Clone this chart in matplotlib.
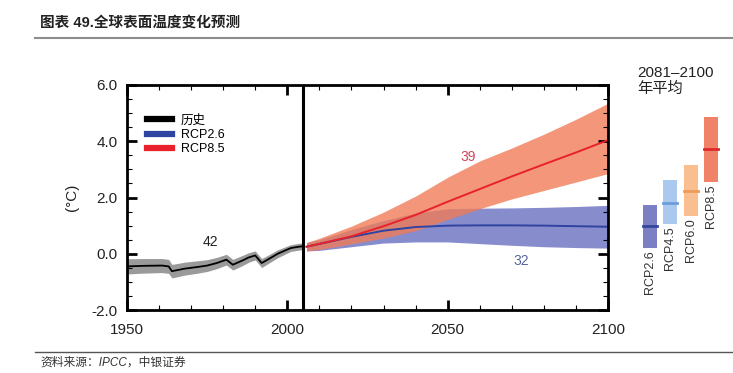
import matplotlib.pyplot as plt
import numpy as np

plt.rcParams['font.family'] = ['Liberation Sans', 'Noto Sans CJK SC', 'DejaVu Sans']

# historical series (annual anomaly, degC)
hist_years = [1950, 1955, 1961, 1963, 1964, 1968, 1972, 1975, 1978, 1981, 1983, 1986,
              1988, 1990, 1992, 1994, 1997, 1999, 2001, 2003, 2005]
hist_mean = [-0.45, -0.43, -0.42, -0.45, -0.62, -0.53, -0.47, -0.42, -0.33, -0.21, -0.39,
             -0.24, -0.13, -0.06, -0.33, -0.20, 0.00, 0.10, 0.20, 0.24, 0.27]
hist_half = [0.27, 0.26, 0.25, 0.25, 0.24, 0.23, 0.22, 0.21, 0.20, 0.19, 0.19, 0.18,
             0.17, 0.16, 0.16, 0.15, 0.14, 0.13, 0.12, 0.12, 0.12]

# projections
fut_years = [2006, 2010, 2020, 2030, 2040, 2050, 2060, 2070, 2080, 2090, 2100]
rcp85_mean = [0.25, 0.35, 0.62, 0.98, 1.38, 1.85, 2.30, 2.75, 3.18, 3.60, 4.04]
rcp85_hi = [0.40, 0.55, 0.98, 1.48, 2.05, 2.72, 3.30, 3.76, 4.25, 4.78, 5.35]
rcp85_lo = [0.10, 0.15, 0.35, 0.56, 0.82, 1.22, 1.60, 1.95, 2.25, 2.55, 2.85]
rcp26_mean = [0.25, 0.35, 0.60, 0.82, 0.95, 1.00, 1.01, 1.01, 1.00, 0.98, 0.96]
rcp26_hi = [0.40, 0.50, 0.86, 1.18, 1.45, 1.60, 1.62, 1.63, 1.65, 1.68, 1.72]
rcp26_lo = [0.10, 0.12, 0.25, 0.38, 0.42, 0.42, 0.36, 0.30, 0.25, 0.22, 0.20]

# 2081-2100 averages
bar_names = ['RCP2.6', 'RCP4.5', 'RCP6.0', 'RCP8.5']
bar_lo = [0.2, 1.05, 1.35, 2.55]
bar_hi = [1.72, 2.62, 3.15, 4.88]
bar_mid = [0.98, 1.8, 2.22, 3.74]
bar_fill = ['#7b7fc4', '#abc9ee', '#f9bf90', '#f08268']
bar_line = ['#34479c', '#6b9edb', '#ee9a55', '#dc2a2a']

fig = plt.figure(figsize=(7.33, 3.73), dpi=100)

# header / footer
fig.text(40/733, 1-23/373, '图表 49.全球表面温度变化预测', fontsize=10.5, fontweight='bold',
         va='center', ha='left', color='#222222')
fig.add_artist(plt.Line2D([35/733, 1], [1-38/373, 1-38/373], color='#8c8c8c', lw=1.5))
fig.add_artist(plt.Line2D([35/733, 1], [1-352/373, 1-352/373], color='#555555', lw=1.0))
fig.text(40/733, 1-363/373, '资料来源：IPCC，中银证券', fontsize=8.5, style='italic',
         va='center', ha='left', color='#333333')

ax = fig.add_axes([127/733, 1-310/373, 481/733, 225/373])

ax.fill_between(hist_years, np.array(hist_mean)-np.array(hist_half),
                np.array(hist_mean)+np.array(hist_half), color='#9a9a9a', lw=0)
ax.fill_between(fut_years, rcp26_lo, rcp26_hi, color='#8186cb', alpha=0.95, lw=0)
ax.fill_between(fut_years, rcp85_lo, rcp85_hi, color='#f07c58', alpha=0.8, lw=0)
ax.plot(hist_years, hist_mean, color='black', lw=1.3, label='历史')
ax.plot(fut_years, rcp26_mean, color='#2f43a0', lw=1.4, label='RCP2.6')
ax.plot(fut_years, rcp85_mean, color='#e8222b', lw=1.4, label='RCP8.5')

ax.axvline(2005, color='black', lw=2.2)

ax.text(1976, 0.42, '42', fontsize=10, ha='center', va='center', color='#222222')
ax.text(2056.5, 3.45, '39', fontsize=10, ha='center', va='center', color='#d4435a')
ax.text(2073, -0.27, '32', fontsize=10, ha='center', va='center', color='#56649c')

ax.set_xlim(1950, 2100)
ax.set_ylim(-2, 6)
ax.set_xticks([1950, 2000, 2050, 2100])
ax.set_xticks(np.arange(1950, 2101, 10), minor=True)
ax.set_yticks([-2, 0, 2, 4, 6])
ax.set_yticks(np.arange(-2, 6.01, 0.5), minor=True)
ax.set_yticklabels(['-2.0', '0.0', '2.0', '4.0', '6.0'])
ax.tick_params(which='both', direction='in', top=True, right=True, labelsize=11,
               labelcolor='#222222')
ax.tick_params(which='major', length=7, width=2)
ax.tick_params(which='minor', length=3.5, width=0.8)
ax.tick_params(axis='x', pad=9)
ax.tick_params(axis='y', pad=7)
for s in ax.spines.values():
    s.set_linewidth(2)
ax.set_ylabel('(°C)', fontsize=11, color='#222222', labelpad=9)

leg = ax.legend(loc='upper left', bbox_to_anchor=(0.018, 0.92), frameon=False,
                fontsize=9, handlelength=2.0, handletextpad=0.7, labelspacing=0.2)
for h in leg.get_lines():
    h.set_linewidth(4.5)

# right panel bars
ax2 = fig.add_axes([640/733, 1-310/373, 81.3/733, 225/373])
ax2.set_xlim(0, 4)
ax2.set_ylim(-2, 6)
ax2.axis('off')
xs = np.arange(4) + 0.5
ax2.bar(xs, np.array(bar_hi)-np.array(bar_lo), bottom=bar_lo, width=0.69, color=bar_fill)
for x, m, c in zip(xs, bar_mid, bar_line):
    ax2.plot([x-0.345, x+0.345], [m, m], color=c, lw=2)
for x, lo, name in zip(xs, bar_lo, bar_names):
    ax2.text(x, lo-0.08, name, rotation=90, ha='center', va='top', fontsize=9,
             color='#333333')
ax2.text(-0.15, 6.15, '2081–2100\n年平均', ha='left', va='center', fontsize=11,
         color='#222222', linespacing=1.15)

fig.savefig('out.png', dpi=100)
